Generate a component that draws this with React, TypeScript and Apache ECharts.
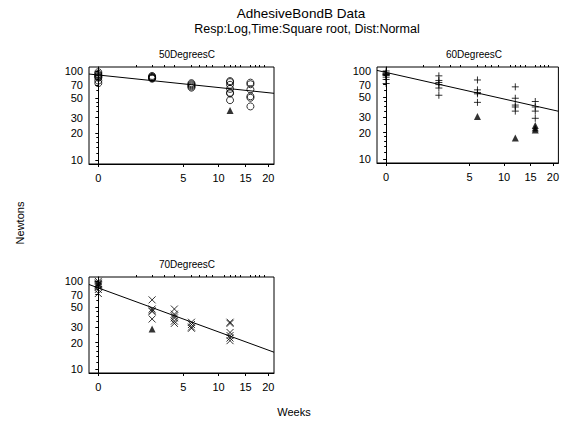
import { useEffect, useRef } from "react";
import * as echarts from "echarts";

// Adhesive bond strength (Newtons) by aging time (weeks), three test temperatures.
const panelTitles = ["50DegreesC", "60DegreesC", "70DegreesC"];

const weeks50 = [0, 2, 6, 12, 16];
const newtons50 = [
  [97, 93, 90, 88, 86, 84, 78, 73],
  [88, 86, 85, 84, 83, 82],
  [73, 71, 69, 67, 65],
  [77, 75, 70, 63, 57, 56, 47],
  [74, 71, 62, 52, 50, 40],
];
const censored50 = [[], [], [], [36], []];

const weeks60 = [0, 2, 6, 12, 16];
const newtons60 = [
  [100, 95, 93, 92, 91, 90, 89, 85, 80, 72],
  [88, 78, 74, 70, 64, 53],
  [79, 61, 57, 55, 44],
  [66, 49, 41, 39, 35],
  [45, 39, 35, 29],
];
const censored60 = [[], [], [30.5], [17.3], [24, 22.5, 21.4]];

const weeks70 = [0, 2, 4, 6, 12];
const newtons70 = [
  [99, 95, 93, 91, 90, 88, 86, 80, 72],
  [61, 48, 46, 45, 37],
  [48, 42, 40, 38, 35, 33],
  [34, 32, 30, 29],
  [34, 33, 26, 24, 22.5, 21],
];
const censored70 = [[], [28.5], [], [], []];

// Fitted lines: log10(Newtons) = intercept + slope * sqrt(weeks)
const fitIntercepts = [1.955, 1.983, 1.921];
const fitSlopes = [-0.0445, -0.0953, -0.158];

const xTickWeeks = [0, 5, 10, 15, 20];
const xMinorWeeks = [1, 2, 3, 4, 6, 7, 8, 9, 11, 12, 13, 14, 16, 17, 18, 19];
const yTickNewtons = [10, 20, 30, 50, 70, 100];
const yMinorNewtons = [12, 14, 16, 18, 25, 35, 40, 45, 60, 80, 90];

const FONT = "Liberation Sans, Arial, sans-serif";
const X_MIN = -0.245;
const X_MAX = 4.62;
const Y_MIN = 0.955;
const Y_MAX = 2.045;

const symPlus = "path://M0,-1L0,1M-1,0L1,0";
const symCross = "path://M-1,-1L1,1M-1,1L1,-1";

function points(weeks: number[], vals: number[][]) {
  const out: number[][] = [];
  weeks.forEach((w, i) => vals[i].forEach((v) => out.push([Math.sqrt(w), Math.log10(v)])));
  return out;
}

export default function App() {
  const ref = useRef<HTMLDivElement>(null);

  useEffect(() => {
    document.body.style.margin = "0";
    if (!ref.current) return;
    const chart = echarts.init(ref.current, undefined, { renderer: "svg" });

    const grids = [
      { left: 89, top: 67, width: 185, height: 97 },
      { left: 377, top: 67, width: 184, height: 96 },
      { left: 89, top: 277, width: 185, height: 96 },
    ];

    const xAxes: any[] = [];
    const yAxes: any[] = [];
    grids.forEach((_, g) => {
      xAxes.push({
        type: "value",
        gridIndex: g,
        min: X_MIN,
        max: X_MAX,
        axisLine: { show: true, lineStyle: { color: "#000", width: 1 } },
        axisTick: {
          show: true,
          length: 3,
          lineStyle: { color: "#000" },
          customValues: xTickWeeks.map((w) => Math.sqrt(w)),
        },
        axisLabel: {
          customValues: xTickWeeks.map((w) => Math.sqrt(w)),
          formatter: (v: number) => String(Math.round(v * v)),
          color: "#000",
          fontFamily: FONT,
          fontSize: 11,
          margin: 8,
        },
        splitLine: { show: false },
      });
      xAxes.push({
        type: "value",
        gridIndex: g,
        min: X_MIN,
        max: X_MAX,
        axisLine: { show: false },
        axisTick: {
          show: true,
          length: 2,
          lineStyle: { color: "#000" },
          customValues: xMinorWeeks.map((w) => Math.sqrt(w)),
        },
        axisLabel: { show: false },
        splitLine: { show: false },
      });
      yAxes.push({
        type: "value",
        gridIndex: g,
        min: Y_MIN,
        max: Y_MAX,
        axisLine: { show: true, lineStyle: { color: "#000", width: 1 } },
        axisTick: {
          show: true,
          length: 3,
          lineStyle: { color: "#000" },
          customValues: yTickNewtons.map((v) => Math.log10(v)),
        },
        axisLabel: {
          customValues: yTickNewtons.map((v) => Math.log10(v)),
          formatter: (v: number) => String(Math.round(Math.pow(10, v))),
          color: "#000",
          fontFamily: FONT,
          fontSize: 11,
          margin: 6,
        },
        splitLine: { show: false },
      });
      yAxes.push({
        type: "value",
        gridIndex: g,
        min: Y_MIN,
        max: Y_MAX,
        position: "left",
        axisLine: { show: false },
        axisTick: {
          show: true,
          length: 2,
          lineStyle: { color: "#000" },
          customValues: yMinorNewtons.map((v) => Math.log10(v)),
        },
        axisLabel: { show: false },
        splitLine: { show: false },
      });
    });

    const panelData = [
      { weeks: weeks50, vals: newtons50, cens: censored50, symbol: "circle", size: 7 },
      { weeks: weeks60, vals: newtons60, cens: censored60, symbol: symPlus, size: 7 },
      { weeks: weeks70, vals: newtons70, cens: censored70, symbol: symCross, size: 7 },
    ];

    const series: any[] = [];
    panelData.forEach((p, g) => {
      series.push({
        type: "scatter",
        xAxisIndex: g * 2,
        yAxisIndex: g * 2,
        symbol: p.symbol,
        symbolSize: p.size,
        itemStyle: { color: "none", borderColor: "#000", borderWidth: 1 },
        data: points(p.weeks, p.vals),
      });
      series.push({
        type: "scatter",
        xAxisIndex: g * 2,
        yAxisIndex: g * 2,
        symbol: "triangle",
        symbolSize: 7,
        itemStyle: { color: "#000" },
        data: points(p.weeks, p.cens),
      });
      series.push({
        type: "line",
        xAxisIndex: g * 2,
        yAxisIndex: g * 2,
        showSymbol: false,
        symbol: "none",
        clip: true,
        lineStyle: { color: "#000", width: 1 },
        data: [X_MIN, X_MAX].map((x) => [x, fitIntercepts[g] + fitSlopes[g] * x]),
      });
    });

    const titleStyle = { color: "#000", fontFamily: FONT, fontWeight: "normal" as const };

    chart.setOption({
      animation: false,
      backgroundColor: "#fff",
      title: [
        { text: "AdhesiveBondB Data", left: 296, top: 1, textAlign: "center", textStyle: { ...titleStyle, fontSize: 13.5 } },
        { text: "Resp:Log,Time:Square root, Dist:Normal", left: 302, top: 17, textAlign: "center", textStyle: { ...titleStyle, fontSize: 12.5 } },
        { text: panelTitles[0], left: 182, top: 44, textAlign: "center", textStyle: { ...titleStyle, fontSize: 10 } },
        { text: panelTitles[1], left: 469, top: 44, textAlign: "center", textStyle: { ...titleStyle, fontSize: 10 } },
        { text: panelTitles[2], left: 182, top: 254, textAlign: "center", textStyle: { ...titleStyle, fontSize: 10 } },
      ],
      graphic: [
        { type: "text", x: 20, y: 223, rotation: Math.PI / 2, style: { text: "Newtons", fill: "#000", font: `11px ${FONT}`, align: "center", verticalAlign: "middle" } },
        { type: "text", x: 294, y: 412, style: { text: "Weeks", fill: "#000", font: `11px ${FONT}`, align: "center", verticalAlign: "middle" } },
      ],
      grid: grids.map((g) => ({ ...g, show: true, borderColor: "#000", borderWidth: 1, backgroundColor: "transparent", containLabel: false })),
      xAxis: xAxes,
      yAxis: yAxes,
      series,
    });

    return () => chart.dispose();
  }, []);

  return <div ref={ref} style={{ width: 562, height: 424 }} />;
}
